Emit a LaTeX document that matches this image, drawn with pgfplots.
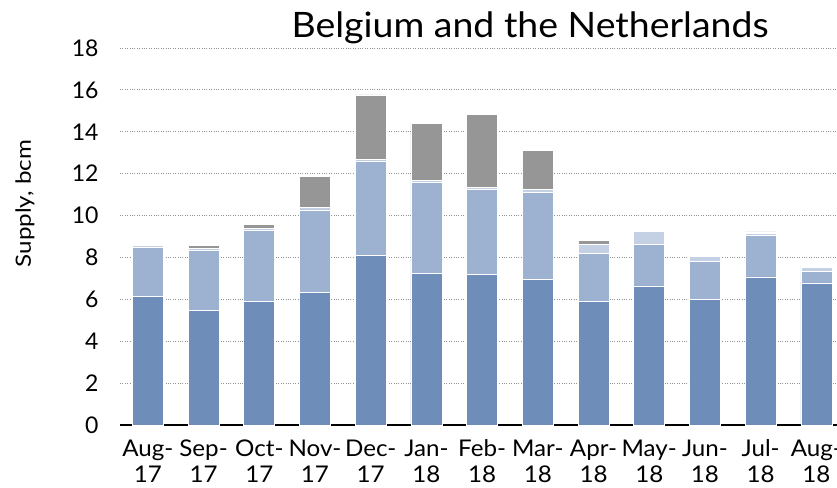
\documentclass[border=0pt]{standalone}
\usepackage{pgfplots}
\pgfplotsset{compat=1.18}
\usepackage{fontspec}
\setmainfont{Lato}
\newfontfamily\titlefont[FakeStretch=1.07]{Lato}
\newfontfamily\labelfont[FakeStretch=1.15]{Lato}
\newfontfamily\tickfont[FakeStretch=1.05]{Lato}

\definecolor{darkblue}{HTML}{6E8DB8}
\definecolor{midblue}{HTML}{9DB2D1}
\definecolor{lightblue}{HTML}{C4D0E3}
\definecolor{topgray}{HTML}{969696}

\begin{document}
\begin{tikzpicture}
\begin{axis}[
    scale only axis,
    width=717pt, height=377pt,
    ybar stacked,
    bar width=0.557,
    xmin=-0.5, xmax=12.37,
    ymin=0, ymax=18,
    ytick={0,2,...,18},
    xtick={0,...,12},
    xticklabels={Aug-\\17, Sep-\\17, Oct-\\17, Nov-\\17, Dec-\\17, Jan-\\18, Feb-\\18, Mar-\\18, Apr-\\18, May-\\18, Jun-\\18, Jul-\\18, Aug-\\18},
    xticklabel style={align=center, font=\tickfont\fontsize{23}{26}\selectfont, yshift=-11pt},
    yticklabel style={font=\fontsize{23}{25}\selectfont, xshift=-18pt},
    /pgf/number format/assume math mode=true,
    major tick length=0pt,
    axis x line*=bottom,
    axis y line*=left,
    x axis line style={line width=1.5pt, black},
    y axis line style={draw=none},
    ymajorgrids,
    grid style={dotted, line width=0.9pt, gray!85},
    ylabel={Supply, bcm},
    ylabel style={at={(axis description cs:-0.1325,0.587)}, anchor=center, font=\labelfont\fontsize{21}{24}\selectfont},
    title={Belgium and the Netherlands},
    title style={at={(rel axis cs:0.572,1)}, anchor=base, yshift=4pt, font=\titlefont\fontsize{35}{38}\selectfont},
    every axis plot/.append style={draw=white, line width=0.7pt},
]
% stacked supply components, bottom to top
\addplot[fill=darkblue] coordinates {
    (0,6.15) (1,5.49) (2,5.92) (3,6.32) (4,8.08) (5,7.23) (6,7.18)
    (7,6.94) (8,5.92) (9,6.64) (10,6.00) (11,7.07) (12,6.78)};
\addplot[fill=midblue] coordinates {
    (0,2.33) (1,2.83) (2,3.36) (3,3.95) (4,4.53) (5,4.37) (6,4.07)
    (7,4.18) (8,2.27) (9,1.97) (10,1.81) (11,1.99) (12,0.55)};
\addplot[fill=lightblue] coordinates {
    (0,0.10) (1,0.10) (2,0.10) (3,0.10) (4,0.08) (5,0.08) (6,0.11)
    (7,0.11) (8,0.42) (9,0.64) (10,0.22) (11,0.09) (12,0.19)};
\addplot[fill=topgray] coordinates {
    (0,0.06) (1,0.17) (2,0.19) (3,1.50) (4,3.07) (5,2.72) (6,3.46)
    (7,1.86) (8,0.22) (9,0.06) (10,0.08) (11,0.07) (12,0.06)};
\end{axis}
\pgfresetboundingbox
\useasboundingbox (-120pt,-62pt) rectangle (717pt,425pt);
\end{tikzpicture}
\end{document}
